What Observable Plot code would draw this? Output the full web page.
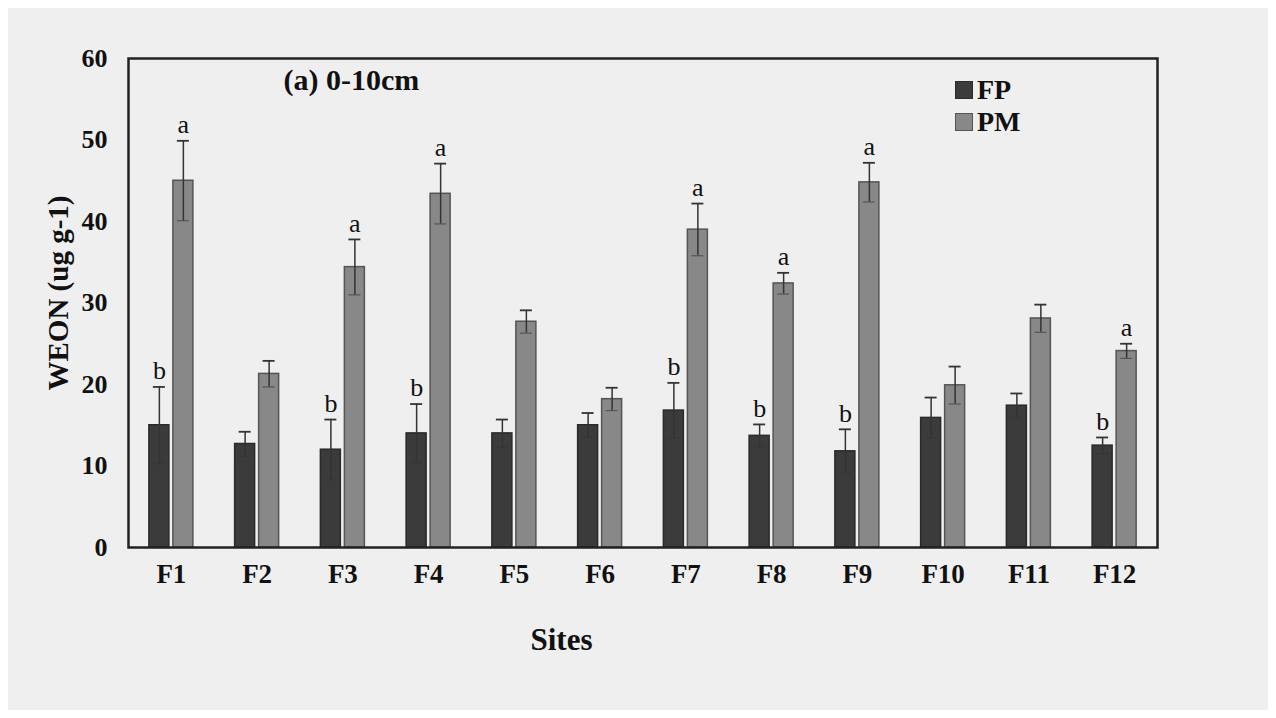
<!DOCTYPE html>
<html>
<head>
<meta charset="utf-8">
<script src="https://cdn.jsdelivr.net/npm/d3@7"></script>
<script src="https://cdn.jsdelivr.net/npm/@observablehq/plot@0.6"></script>
<style>
  html, body { margin: 0; padding: 0; background: #ffffff; }
  #wrap { position: relative; width: 1260px; height: 702px; margin: 8px; background: #efefef; }
  #wrap svg { display: block; background: #efefef; }
  .legend { position: absolute; left: 947px; top: 66px; font-family: "Liberation Serif", serif; font-weight: bold; font-size: 28px; color: #111; line-height: 28px; }
  .legend div { display: flex; align-items: center; height: 32px; }
  .legend span.sw { display: inline-block; width: 16px; height: 16px; margin-right: 4px; }
</style>
</head>
<body>
<div id="wrap"></div>
<script>
const sites = ["F1","F2","F3","F4","F5","F6","F7","F8","F9","F10","F11","F12"];
const fpValues = [15.0, 12.7, 12.0, 14.0, 14.0, 15.0, 16.8, 13.7, 11.8, 15.9, 17.4, 12.5];
const fpErrors = [4.7, 1.5, 3.7, 3.6, 1.7, 1.5, 3.4, 1.4, 2.7, 2.5, 1.5, 1.0];
const pmValues = [45.0, 21.3, 34.4, 43.4, 27.7, 18.2, 39.0, 32.4, 44.8, 19.9, 28.1, 24.1];
const pmErrors = [4.9, 1.6, 3.4, 3.7, 1.4, 1.4, 3.2, 1.3, 2.4, 2.3, 1.7, 0.9];
const fpLetters = ["b","","b","b","","","b","b","b","","","b"];
const pmLetters = ["a","","a","a","","","a","a","a","","","a"];
const yTicks = [0, 10, 20, 30, 40, 50, 60];
const seriesNames = ["FP", "PM"];
const seriesColors = ["#3b3b3b", "#888888"];
const seriesStrokes = ["#2a2a2a", "#555555"];

const fp = sites.map((s, i) => ({site: s, value: fpValues[i], err: fpErrors[i], letter: fpLetters[i]}));
const pm = sites.map((s, i) => ({site: s, value: pmValues[i], err: pmErrors[i], letter: pmLetters[i]}));

const font = "'Liberation Serif', 'Times New Roman', serif";
const half = 85.75 / 2;

function seriesMarks(data, k, off) {
  return [
    Plot.barY(data, {x: "site", y: "value", dx: off, insetLeft: half - 10, insetRight: half - 10,
      fill: seriesColors[k], stroke: seriesStrokes[k], strokeWidth: 1.5}),
    Plot.ruleX(data, {x: "site", y1: d => d.value - d.err, y2: d => d.value + d.err, dx: off,
      stroke: "#333", strokeWidth: 1.5}),
    Plot.tickY(data, {x: "site", y: d => d.value + d.err, dx: off, insetLeft: half - 6, insetRight: half - 6,
      stroke: "#333", strokeWidth: 1.8}),
    Plot.tickY(data, {x: "site", y: d => d.value - d.err, dx: off, insetLeft: half - 6, insetRight: half - 6,
      stroke: "#333", strokeWidth: 1.2, strokeOpacity: 0.6}),
    Plot.text(data.filter(d => d.letter), {x: "site", y: d => d.value + d.err, text: "letter", dx: off, dy: -16,
      fontSize: 26, fontFamily: font, fill: "#111", lineAnchor: "middle"})
  ];
}

const chart = Plot.plot({
  width: 1260,
  height: 702,
  marginLeft: 120,
  marginRight: 111,
  marginTop: 50,
  marginBottom: 163,
  style: {background: "#efefef", fontFamily: font},
  x: {domain: sites, padding: 0, round: false, label: null, tickSize: 0, tickPadding: 16},
  y: {domain: [0, 60], ticks: yTicks, label: null, tickSize: 0, tickPadding: 21},
  marks: [
    ...seriesMarks(fp, 0, -12),
    ...seriesMarks(pm, 1, 12),
    Plot.frame({stroke: "#222", strokeWidth: 2.5}),
    Plot.axisX({tickSize: 0, tickPadding: 16, fontSize: 27, fontWeight: "bold", fill: "#111", label: null}),
    Plot.axisY({ticks: yTicks, tickSize: 0, tickPadding: 21, fontSize: 26, fontWeight: "bold", fill: "#111", label: null}),
    Plot.text(["(a) 0-10cm"], {frameAnchor: "top-left", dx: 155, dy: 22, textAnchor: "start", lineAnchor: "middle",
      fontSize: 30, fontWeight: "bold", fontFamily: font, fill: "#111"}),
    Plot.text(["Sites"], {frameAnchor: "bottom-left", dx: 433, dy: 93, textAnchor: "middle", lineAnchor: "middle",
      fontSize: 31, fontWeight: "bold", fontFamily: font, fill: "#111"}),
    Plot.text(["WEON (ug g-1)"], {frameAnchor: "left", dx: -70, dy: -10, rotate: -90, textAnchor: "middle", lineAnchor: "middle",
      fontSize: 29, fontWeight: "bold", fontFamily: font, fill: "#111"})
  ]
});

const wrap = document.getElementById("wrap");
wrap.appendChild(chart);

const legend = document.createElement("div");
legend.className = "legend";
seriesNames.forEach((name, k) => {
  const row = document.createElement("div");
  const sw = document.createElement("span");
  sw.className = "sw";
  sw.style.background = seriesColors[k];
  sw.style.border = "1px solid " + seriesStrokes[k];
  row.appendChild(sw);
  row.appendChild(document.createTextNode(name));
  legend.appendChild(row);
});
wrap.appendChild(legend);
</script>
</body>
</html>
